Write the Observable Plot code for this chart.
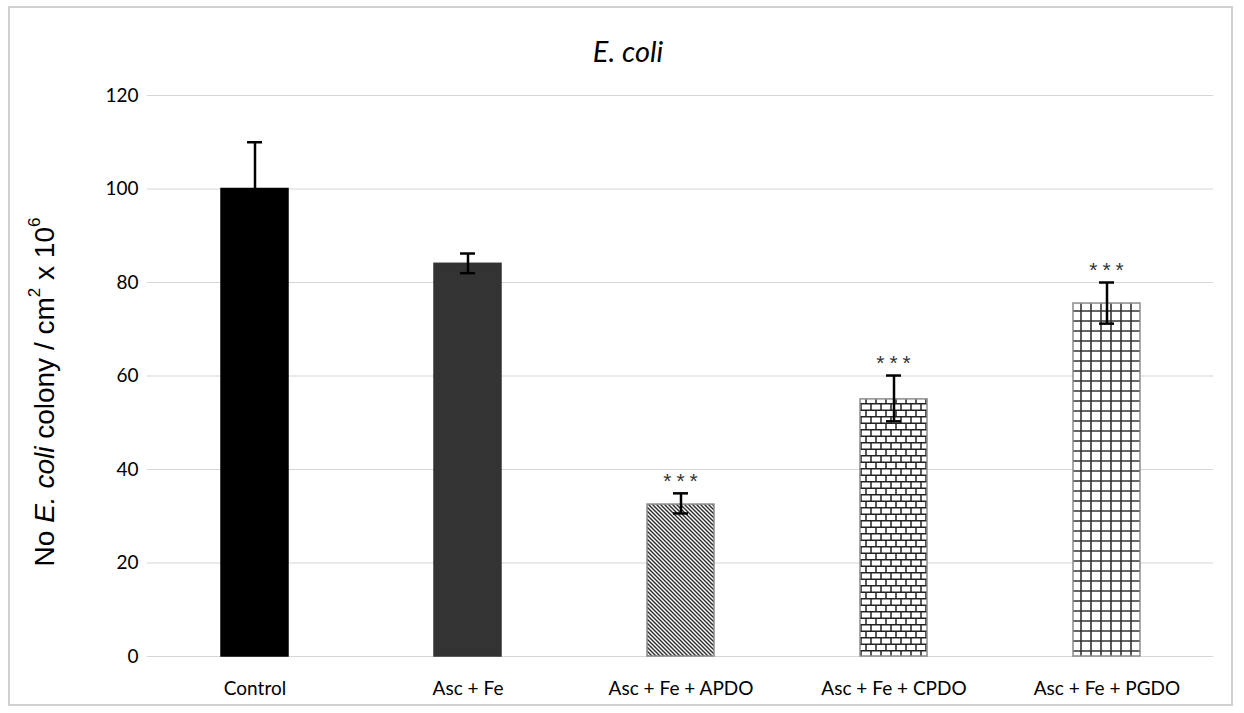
<!DOCTYPE html>
<html><head><meta charset="utf-8">
<script src="https://cdn.jsdelivr.net/npm/d3@7"></script>
<script src="https://cdn.jsdelivr.net/npm/@observablehq/plot@0.6"></script>
<style>body{margin:0;background:#fff;} svg{display:block;} .sig text{letter-spacing:5px;}</style>
</head><body><div id="chart"></div>
<script>
const categories = ["Control", "Asc + Fe", "Asc + Fe + APDO", "Asc + Fe + CPDO", "Asc + Fe + PGDO"];
const means = [100, 84, 32.5, 55, 75.5];
const errLow = [90, 82, 30.6, 50.3, 71.2];
const errHigh = [110, 86.2, 34.9, 60.1, 80];
const significance = ["", "", "***", "***", "***"];
const yTicks = [0, 20, 40, 60, 80, 100, 120];

const fillStyles = ["#000000", "#333333", "url(#pDiag)", "url(#pBrick)", "url(#pGrid)"];
const strokeStyles = ["#000000", "#333333", "#8c8c8c", "#8c8c8c", "#8c8c8c"];

const data = categories.map((c, i) => ({cat: c, v: means[i], lo: errLow[i], hi: errHigh[i], sig: significance[i], fill: fillStyles[i], stroke: strokeStyles[i]}));

const font = "Lato, 'Open Sans', sans-serif";
const plot = Plot.plot({
  width: 1244, height: 713,
  marginLeft: 147, marginRight: 31, marginTop: 95, marginBottom: 57,
  style: {fontFamily: font, fontSize: "19px", color: "#000", background: "#fff"},
  x: {domain: categories, paddingInner: 0.686, paddingOuter: 0.343, label: null, tickSize: 0, tickPadding: 25},
  y: {domain: [0, 120], ticks: yTicks, label: null, tickSize: 0, tickPadding: 9},
  color: {type: "identity"},
  marks: [
    Plot.gridY(yTicks, {stroke: "#d6d6d6", strokeOpacity: 1, strokeWidth: 1.1}),
    Plot.barY(data, {x: "cat", y: "v", fill: "fill", stroke: "stroke", strokeWidth: 1.5}),
    Plot.ruleX(data, {x: "cat", y1: "lo", y2: "hi", stroke: "#000", strokeWidth: 2.5}),
    Plot.tickY(data, {x: "cat", y: "hi", stroke: "#000", strokeWidth: 2.5, insetLeft: 26, insetRight: 26}),
    Plot.tickY(data, {x: "cat", y: "lo", stroke: "#000", strokeWidth: 2.5, insetLeft: 26, insetRight: 26}),
    Plot.text(data, {x: "cat", y: "hi", text: "sig", dy: -12, dx: 2, fontSize: 21, fill: "#333", className: "sig", fontFamily: "'Liberation Sans', sans-serif"})
  ]
});

const svg = d3.select(plot);
const defs = svg.insert("defs", ":first-child");
const pd = defs.append("pattern").attr("id", "pDiag").attr("patternUnits", "userSpaceOnUse").attr("width", 4).attr("height", 4);
pd.append("rect").attr("width", 4).attr("height", 4).attr("fill", "#fff");
pd.append("path").attr("d", "M-1,-1L5,5M-1,3L1,5M3,-1L5,1").attr("stroke", "#2a2a2a").attr("stroke-width", 1.4);
const pb = defs.append("pattern").attr("id", "pBrick").attr("patternUnits", "userSpaceOnUse").attr("width", 10).attr("height", 13);
pb.append("rect").attr("width", 10).attr("height", 13).attr("fill", "#fff");
pb.append("path").attr("d", "M0,0.75H10M0,7.25H10M1,0V7.25M6,7.25V13").attr("stroke", "#222").attr("stroke-width", 1.5).attr("fill", "none");
const pg = defs.append("pattern").attr("id", "pGrid").attr("patternUnits", "userSpaceOnUse").attr("width", 10).attr("height", 10);
pg.append("rect").attr("width", 10).attr("height", 10).attr("fill", "#fff");
pg.append("path").attr("d", "M0,1H10M1,0V10").attr("stroke", "#333").attr("stroke-width", 1.6).attr("fill", "none");

svg.append("rect").attr("x", 9).attr("y", 7).attr("width", 1223).attr("height", 698)
  .attr("fill", "none").attr("stroke", "#d0d0d0").attr("stroke-width", 2);

svg.append("text").attr("x", 628).attr("y", 55).attr("text-anchor", "middle").attr("dominant-baseline", "middle")
  .attr("font-family", "Lato, sans-serif").attr("font-size", 29).attr("font-style", "italic").text("E. coli");

const yl = svg.append("text").attr("transform", "translate(47,392) rotate(-90)").attr("text-anchor", "middle")
  .attr("dominant-baseline", "middle").attr("font-family", "'Liberation Sans', Arial, sans-serif").attr("font-size", 28);
yl.append("tspan").text("No ");
yl.append("tspan").attr("font-style", "italic").text("E. coli");
yl.append("tspan").text(" colony / cm");
yl.append("tspan").attr("font-size", 17).attr("dy", -11).text("2");
yl.append("tspan").attr("dy", 11).text(" x 10");
yl.append("tspan").attr("font-size", 17).attr("dy", -11).text("6");

document.getElementById("chart").appendChild(plot);
</script>
</body></html>
